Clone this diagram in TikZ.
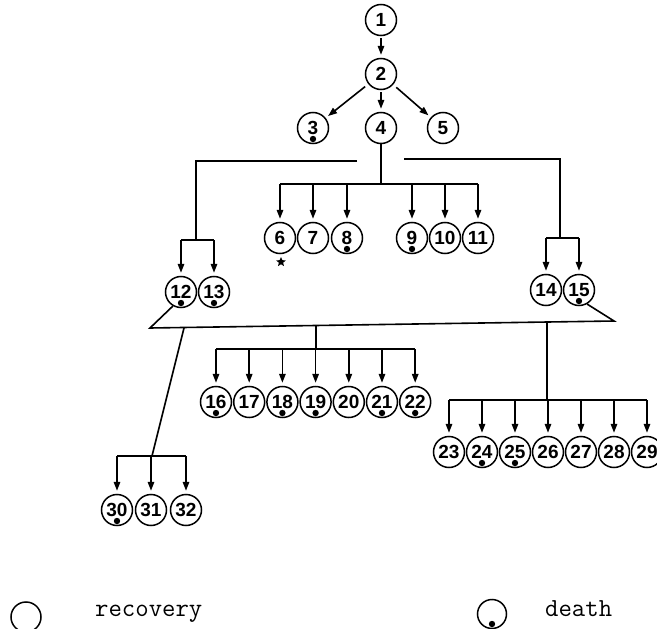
\documentclass[tikz,border=0pt]{standalone}
\usepackage{fontspec}
\setmainfont{Liberation Sans}
\usetikzlibrary{arrows.meta,shapes.geometric}

\tikzset{
  case/.style={circle, draw, line width=1.5pt, minimum size=31pt, inner sep=0pt,
    font=\fontsize{19}{19}\selectfont\bfseries},
  died/.style={case, path picture={\fill ([yshift=4.5pt]path picture bounding box.south) circle (3.2pt);}},
  link/.style={line width=1.6pt},
  arr/.style={line width=1.6pt, shorten >=3pt, -{Triangle[length=9pt,width=6.5pt]}},
}

\begin{document}
\begin{tikzpicture}[x=1pt,y=-1pt]
  \useasboundingbox (0,0) rectangle (657,629);
  %Primeiros casos
  \node[case] (n1) at (381,20) {1};
  \node[case] (n2) at (381,74) {2};
  \node[died] (n3) at (313,128) {3};
  \node[case] (n4) at (381,128) {4};
  \node[case] (n5) at (443,128) {5};
  \draw[arr, shorten <=2pt] (n1) -- (n2);
  \draw[arr, shorten <=4pt] (n2) -- (n3);
  \draw[arr, shorten <=2pt] (n2) -- (n4);
  \draw[arr, shorten <=4pt] (n2) -- (n5);

  %Filhos de 4
  \foreach \k/\x/\s in {6/280/case,7/313/case,8/347/died,9/412/died,10/445/case,11/478/case}
    \node[\s] (n\k) at (\x,238) {\k};
  \node[star, star points=5, star point ratio=2.2, fill, minimum size=10pt, inner sep=0pt] (mark6) at (281,262) {};
  \coordinate (bar4) at (381,184);
  \draw[link] (n4) -- (bar4);
  \draw[link] (n6 |- bar4) -- (n11 |- bar4);
  \foreach \k in {6,...,11}
    \draw[arr] (n\k |- bar4) -- (n\k);

  %Ramos laterais
  \node[died] (n12) at (181,292) {12};
  \node[died] (n13) at (214,292) {13};
  \node[case] (n14) at (546,290) {14};
  \node[died] (n15) at (579,290) {15};
  \coordinate (l0) at (357,161);
  \coordinate (l1) at (196,161);
  \coordinate (l2) at (196,240);
  \coordinate (r0) at (404,159);
  \coordinate (r1) at (560,159);
  \coordinate (r2) at (560,238);
  \draw[link] (l0) -- (l1) -- (l2);
  \draw[link] (n12 |- l2) -- (n13 |- l2);
  \draw[link] (r0) -- (r1) -- (r2);
  \draw[link] (n14 |- r2) -- (n15 |- r2);
  \foreach \k in {12,13}
    \draw[arr] (n\k |- l2) -- (n\k);
  \foreach \k in {14,15}
    \draw[arr] (n\k |- r2) -- (n\k);

  %Triangulo
  \coordinate (tl) at (150,328);
  \coordinate (tr) at (614,321);
  \draw[link] (n12.240) -- (tl) -- (tr) -- (n15.-60);

  %Filhos de 12 e 15
  \foreach \k/\s [count=\i from 0] in {16/died,17/case,18/died,19/died,20/case,21/died,22/died}
    \node[\s] (n\k) at ({216+33.2*\i},402) {\k};
  \coordinate (m0) at (316,325.5);
  \coordinate (bar16) at (316,349);
  \draw[link] (m0) -- (bar16);
  \draw[link] (n16 |- bar16) -- (n22 |- bar16);
  \foreach \k in {16,...,22}
    \draw[arr] (n\k |- bar16) -- (n\k);

  \foreach \k/\s [count=\i from 0] in {23/case,24/died,25/died,26/case,27/case,28/case,29/case}
    \node[\s] (n\k) at ({449+33*\i},452) {\k};
  \coordinate (m1) at (547,322);
  \coordinate (bar23) at (547,400);
  \draw[link] (m1) -- (bar23);
  \draw[link] (n23 |- bar23) -- (n29 |- bar23);
  \foreach \k in {23,...,29}
    \draw[arr] (n\k |- bar23) -- (n\k);

  \node[died] (n30) at (117,510) {30};
  \node[case] (n31) at (151,510) {31};
  \node[case] (n32) at (186,510) {32};
  \coordinate (m2) at (184,328);
  \coordinate (bar30) at (152,456);
  \draw[link] (m2) -- (bar30);
  \draw[link] (n30 |- bar30) -- (n32 |- bar30);
  \foreach \k in {30,31,32}
    \draw[arr] (n\k |- bar30) -- (n\k);

  %Legenda
  \node[case, minimum size=30pt] (key1) at (26,617) {};
  \node[anchor=west, inner sep=0pt, font=\fontsize{26}{26}\ttfamily] (txt1) at (95,614) {recovery};
  \node[died, minimum size=29pt] (key2) at (492,614) {};
  \node[anchor=west, inner sep=0pt, font=\fontsize{26}{26}\ttfamily] (txt2) at (545,609) {death};
\end{tikzpicture}
\end{document}
